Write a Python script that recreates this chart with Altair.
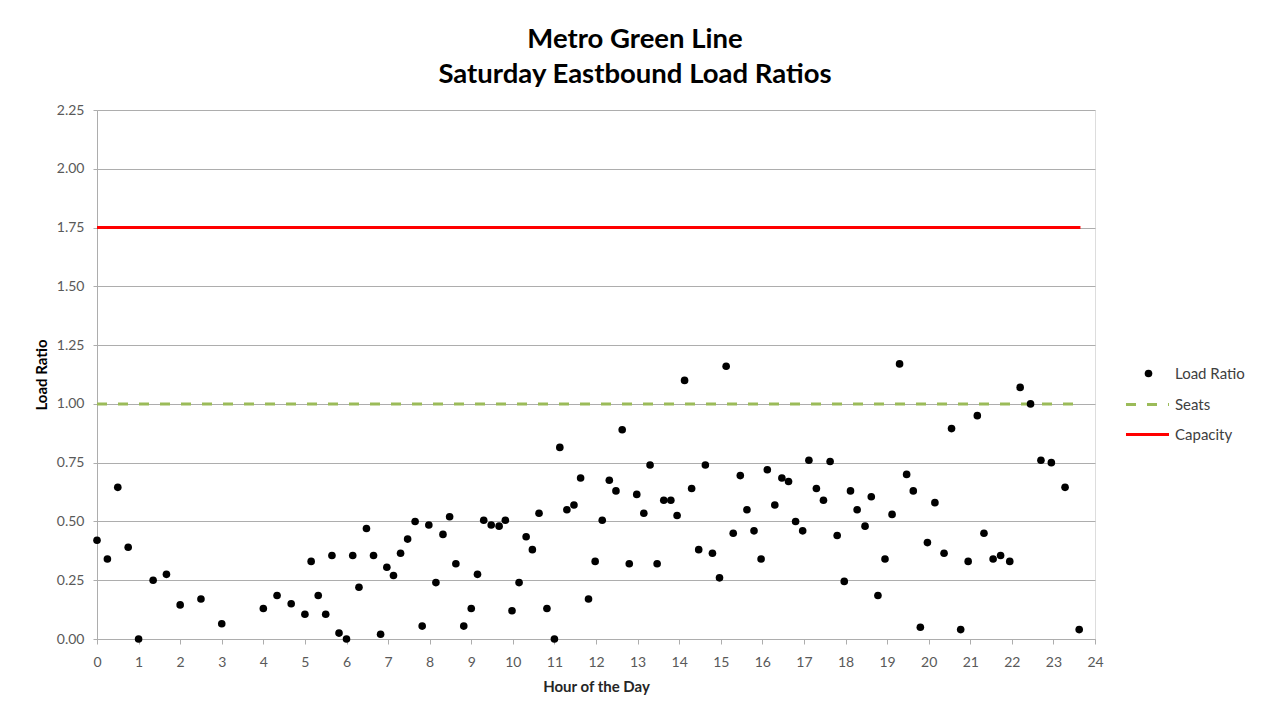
import altair as alt
import pandas as pd

hours = [0.00, 0.25, 0.50, 0.75, 1.00, 1.35, 1.67, 2.00, 2.50, 3.00,
         4.00, 4.33, 4.67, 5.00, 5.15, 5.32, 5.50, 5.65, 5.82, 6.00,
         6.15, 6.30, 6.48, 6.65, 6.82, 6.97, 7.13, 7.30, 7.47, 7.65,
         7.82, 7.98, 8.15, 8.32, 8.48, 8.63, 8.82, 9.00, 9.15, 9.30,
         9.48, 9.67, 9.82, 9.98, 10.15, 10.32, 10.47, 10.63, 10.82, 11.00,
         11.13, 11.30, 11.47, 11.63, 11.82, 11.98, 12.15, 12.32, 12.48, 12.63,
         12.80, 12.98, 13.15, 13.30, 13.47, 13.63, 13.80, 13.95, 14.13, 14.30,
         14.47, 14.63, 14.80, 14.97, 15.13, 15.30, 15.47, 15.63, 15.80, 15.97,
         16.12, 16.30, 16.47, 16.63, 16.80, 16.97, 17.12, 17.30, 17.47, 17.63,
         17.80, 17.97, 18.12, 18.28, 18.47, 18.62, 18.78, 18.95, 19.12, 19.30,
         19.47, 19.63, 19.80, 19.97, 20.15, 20.37, 20.55, 20.77, 20.95, 21.17,
         21.33, 21.55, 21.73, 21.95, 22.20, 22.45, 22.70, 22.95, 23.28, 23.62]

load_ratio = [0.42, 0.34, 0.645, 0.39, 0.0, 0.25, 0.275, 0.145, 0.17, 0.065,
              0.13, 0.185, 0.15, 0.105, 0.33, 0.185, 0.105, 0.355, 0.025, 0.0,
              0.355, 0.22, 0.47, 0.355, 0.02, 0.305, 0.27, 0.365, 0.425, 0.50,
              0.055, 0.485, 0.24, 0.445, 0.52, 0.32, 0.055, 0.13, 0.275, 0.505,
              0.485, 0.48, 0.505, 0.12, 0.24, 0.435, 0.38, 0.535, 0.13, 0.0,
              0.815, 0.55, 0.57, 0.685, 0.17, 0.33, 0.505, 0.675, 0.63, 0.89,
              0.32, 0.615, 0.535, 0.74, 0.32, 0.59, 0.59, 0.525, 1.10, 0.64,
              0.38, 0.74, 0.365, 0.26, 1.16, 0.45, 0.695, 0.55, 0.46, 0.34,
              0.72, 0.57, 0.685, 0.67, 0.50, 0.46, 0.76, 0.64, 0.59, 0.755,
              0.44, 0.245, 0.63, 0.55, 0.48, 0.605, 0.185, 0.34, 0.53, 1.17,
              0.70, 0.63, 0.05, 0.41, 0.58, 0.365, 0.895, 0.04, 0.33, 0.95,
              0.45, 0.34, 0.355, 0.33, 1.07, 1.00, 0.76, 0.75, 0.645, 0.04]

ref_lines = ["Seats", "Capacity"]
ref_values = [1.0, 1.75]
ref_start = [0.0, 0.0]
ref_end = [23.65, 23.65]

x_ticks = list(range(0, 25))
y_ticks = [0, 0.25, 0.5, 0.75, 1.0, 1.25, 1.5, 1.75, 2.0, 2.25]

pts = pd.DataFrame({"hour": hours, "ratio": load_ratio, "series": "Load Ratio"})
refs = pd.DataFrame({"series": ref_lines, "ratio": ref_values,
                     "x0": ref_start, "x1": ref_end})

FONT = "Lato"
GRID = "#adadad"
GREEN = "#9BBB59"
RED = "#FF0000"
LABEL = "#595959"


def legend(x, y, **kw):
    return alt.Legend(
        title=None, orient="none", legendX=x, legendY=y, padding=0,
        labelFont=FONT, labelFontSize=15, labelColor="#404040", **kw
    )


x_enc = alt.X(
    "hour:Q",
    scale=alt.Scale(domain=[0, 24], nice=False, zero=False),
    axis=alt.Axis(
        values=x_ticks, format="d", title="Hour of the Day", grid=False,
        tickSize=5, tickColor=GRID, domainColor=GRID, domain=True, labelFlush=False,
        labelFont=FONT, labelFontSize=14, labelColor=LABEL, labelPadding=11,
        titleFont=FONT, titleFontSize=15, titleFontWeight="bold", titleColor="#262626",
        titlePadding=10,
    ),
)
y_enc = alt.Y(
    "ratio:Q",
    scale=alt.Scale(domain=[0, 2.25], nice=False),
    axis=alt.Axis(
        values=y_ticks, format=".2f", title="Load Ratio", grid=True, gridColor=GRID,
        tickSize=4, tickColor=GRID, domainColor=GRID, domain=True, labelFlush=False,
        labelFont=FONT, labelFontSize=14, labelColor=LABEL, labelPadding=9,
        titleFont=FONT, titleFontSize=15, titleFontWeight="bold", titleColor="#000000",
        titlePadding=7,
    ),
)

points = alt.Chart(pts).mark_point(filled=True, size=58, opacity=1, shape="circle").encode(
    x=x_enc, y=y_enc,
    color=alt.Color("series:N", scale=alt.Scale(domain=["Load Ratio"], range=["#000000"]),
                    legend=legend(1044, 256, symbolType="circle", symbolSize=58,
                                  symbolFillColor="#000000", symbolStrokeWidth=0,
                                  symbolOpacity=1, labelOffset=19)),
)

seats = alt.Chart(refs).transform_filter(alt.datum.series == "Seats").mark_rule(
    strokeWidth=3, strokeDash=[10, 11]
).encode(
    x="x0:Q", x2="x1:Q", y="ratio:Q",
    color=alt.Color("series:N", scale=alt.Scale(domain=["Seats"], range=[GREEN]),
                    legend=legend(1027, 271, symbolType="stroke", symbolSize=1850,
                                  symbolStrokeWidth=3, symbolDash=[10, 11],
                                  symbolStrokeColor=GREEN, labelOffset=4)),
)

capacity = alt.Chart(refs).transform_filter(alt.datum.series == "Capacity").mark_rule(
    strokeWidth=3
).encode(
    x="x0:Q", x2="x1:Q", y="ratio:Q",
    color=alt.Color("series:N", scale=alt.Scale(domain=["Capacity"], range=[RED]),
                    legend=legend(1027, 301, symbolType="stroke", symbolSize=1850,
                                  symbolStrokeWidth=3,
                                  symbolStrokeColor=RED, labelOffset=4)),
)

chart = alt.layer(seats, capacity, points).resolve_scale(
    color="independent"
).resolve_legend(color="independent").properties(
    width=998,
    height=529,
    autosize=alt.AutoSizeParams(type="none"),
    padding={"left": 89, "top": 102, "right": 150, "bottom": 60},
    title=alt.TitleParams(
        text=["Metro Green Line", "Saturday Eastbound Load Ratios"],
        font=FONT, fontSize=27.5, fontWeight="bold", color="#000000",
        anchor="middle", dx=39, offset=15, lineHeight=35,
    ),
).configure_view(stroke=None).configure(background="white")

chart.save("out.html", embed_options={"renderer": "svg", "actions": False})
